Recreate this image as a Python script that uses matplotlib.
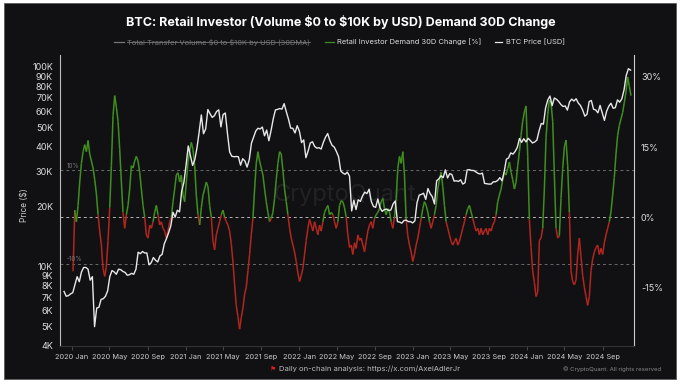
import matplotlib
matplotlib.use("Agg")
import matplotlib.pyplot as plt
import matplotlib.dates as mdates
from matplotlib.collections import LineCollection
from matplotlib.patches import Rectangle
from matplotlib.lines import Line2D
from matplotlib.ticker import FixedLocator, NullLocator
import numpy as np
import pandas as pd

# BTC price, weekly samples starting 2019-12-07 (USD)
price_2019 = [7500, 7100, 7150, 7300]
price_2020 = [7400, 8100, 8900, 8400,
              9400, 9900, 9900, 9700, 8550,
              8900, 5000, 6200, 6250,
              6850, 6900, 7100, 7550,
              8900, 9550, 9400, 9150, 9700,
              9650, 9450, 9350, 9050,
              9100, 9250, 9150, 9700,
              11800, 11600, 11900, 11700, 11700,
              10200, 10450, 11100, 10750,
              10550, 11300, 11500, 13000, 13800,
              14800, 16000, 18700, 17700,
              19150, 18800, 23900, 26400]
price_2021 = [32200, 40200, 36000, 32100, 34300,
              39300, 47200, 57500, 46300,
              48900, 61200, 58300, 55900,
              57000, 59800, 61000, 50100,
              57800, 58800, 46400, 37500, 35700,
              35500, 35600, 35500, 32200,
              34700, 33800, 31500, 34300, 41500,
              44600, 47800, 49300, 48900,
              50000, 45200, 48300, 42700,
              48000, 54900, 60900, 61300, 61900,
              61500, 65500, 59700, 54800,
              49400, 49300, 46700, 50800]
price_2022 = [47700, 41800, 43100, 35100, 37900,
              41600, 42200, 40000, 39200,
              39400, 38800, 41900, 44500,
              46400, 42800, 40500, 39700, 37700,
              35500, 30100, 29400, 29000,
              29700, 28400, 19000, 21500,
              19300, 21600, 21200, 22600, 23600,
              23200, 24400, 21200, 20000,
              19800, 21800, 19700, 18900,
              19300, 19400, 19100, 19200, 20600,
              21300, 16800, 16700, 16500,
              17000, 17100, 16800, 16800, 16550]
price_2023 = [16950, 20900, 22800, 23000,
              23300, 21700, 24600, 23200,
              22400, 20600, 26900, 27500,
              28500, 27900, 30500, 27800, 29200,
              28900, 26800, 26900, 26700,
              27200, 25900, 26300, 30500,
              30600, 30300, 30300, 29800, 29300,
              29100, 29400, 26100, 26000,
              25900, 25900, 26600, 26600, 27000,
              27900, 26900, 29900, 34500,
              35000, 37100, 36600, 37700,
              39500, 43800, 41900, 43700, 42100]
price_2024 = [43900, 42800, 41600, 42100,
              43000, 47800, 52100, 51700,
              62400, 68300, 71500, 64000, 69900,
              68900, 67200, 64900, 63400,
              63800, 60800, 66900, 69000,
              67500, 69300, 66000, 64100, 60900,
              56700, 57900, 67100, 67900,
              61400, 60900, 58900, 64200, 58900,
              54000, 60000, 63600, 65800,
              62100, 62500, 68400, 66600,
              69300, 76700, 90600, 98000, 96400]

# Retail investor demand 30D change (%), samples every ~5.35 days from 2020-01-05
demand = [
    -11.6, 1.5, -1.0, 2.5, 7.5, 11.5, 14.0, 15.5, 14.0, 16.4, 13.5, 12.0, 10.5, 8.0, 5.0, 0.5, -3.0, -6.0, -11.0, -12.7,
    -10.5, -5.0, 2.0, 11.0, 21.7, 26.0, 23.5, 20.5, 14.5, 7.5, 1.0, -2.4, 0.5, 2.5, 6.0, 11.0, 10.5, 12.0, 13.0, 12.0,
    9.6, 6.0, 2.5, 0.0, -3.8, -4.5, -1.7, -2.4, -1.0, 1.0, 2.5, 0.5, -1.7, -1.0, -2.4, -3.0, -4.5, -3.0, -1.0, 0.0,
    3.3, 6.0, 9.0, 9.5, 7.5, 9.0, 4.7, 3.3, 7.5, 11.8, 14.0, 16.0, 14.5, 11.0, 4.7, 0.5, -1.7, 2.0, 4.7, 6.0,
    7.5, 6.5, 2.5, 0.0, -5.2, -7.0, -3.8, -2.4, -1.0, 0.5, 1.5, 0.0, -1.0, -1.7, -3.0, -5.7, -9.6, -14.5, -19.0, -21.3,
    -24.0, -21.5, -19.5, -16.5, -15.0, -11.5, -8.0, -3.8, -0.3, 6.0, 11.5, 14.0, 12.0, 10.5, 9.0, 6.0, 3.3, 1.0, -1.0, -0.3,
    1.0, 4.0, 8.0, 11.5, 14.0, 13.5, 10.0, 6.0, 3.3, 0.5, -2.4, -4.5, -6.0, -7.5, -9.5, -12.0, -13.8, -12.5, -11.0, -8.0,
    -5.0, -2.4, -0.5, -1.7, -3.0, -1.0, -2.4, -3.8, -1.7, -3.0, -1.0, 1.0, 1.8, 2.5, 0.5, 1.0, 0.5, -1.0, -2.4, -1.0,
    2.5, 3.5, 3.3, 2.0, 0.0, -3.8, -6.5, -6.0, -8.0, -5.5, -6.7, -3.8, -5.0, -4.5, -6.0, -7.4, -5.2, -3.0, -1.7, -1.0,
    -2.4, -0.3, 0.5, 1.0, 1.8, 3.3, 4.0, 1.8, 0.5, 1.8, 1.1, -1.0, -2.4, 0.0, 4.0, 10.4, 13.0, 11.5, 14.0, 9.0,
    -0.5, -4.0, -6.0, -7.5, -9.5, -8.0, -6.0, -4.5, -2.4, -0.3, 1.8, 3.3, 2.5, 1.1, -1.0, -2.4, -1.0, 0.5, 2.5, 6.0,
    8.0, 9.6, 6.5, 2.5, -1.0, -2.4, -3.8, -5.2, -6.0, -5.2, -4.5, -6.0, -5.2, -3.8, -2.4, -1.0, 0.5, 1.8, 2.5, 1.1,
    -0.3, -1.7, -3.0, -2.4, -3.8, -2.4, -3.8, -3.0, -2.4, -3.8, -2.4, -3.0, -1.7, -1.0, 0.5, 3.3, 4.7, 6.0, 8.0, 9.6,
    9.0, 10.4, 11.8, 9.6, 8.0, 6.0, 7.5, 11.0, 14.0, 17.5, 20.5, 22.5, 23.8, 13.0, -0.5, -6.5, -11.5, -14.0, -17.0, -16.0,
    -5.0, -4.5, -2.4, 6.0, 17.0, 22.0, 25.0, 24.5, 20.5, 9.0, -2.4, -4.5, -4.0, 4.0, 10.4, 15.0, 16.5, 11.0, 1.0, -11.5,
    -13.8, -14.5, -13.5, -8.0, -4.5, -8.5, -12.5, -15.0, -17.0, -18.9, -17.0, -11.5, -9.0, -7.5, -6.5, -6.0, -8.0, -6.7, -8.0, -5.5,
    -3.8, -2.4, -1.0, 1.1, 4.7, 8.5, 13.5, 17.5, 19.6, 21.0, 22.4, 24.5, 26.8, 30.0, 28.0, 26.0,
]

price_ticks = [4000, 5000, 6000, 7000, 8000, 9000, 10000, 20000, 30000, 40000,
               50000, 60000, 70000, 80000, 90000, 100000]
price_labels = ['4K', '5K', '6K', '7K', '8K', '9K', '10K', '20K', '30K', '40K',
                '50K', '60K', '70K', '80K', '90K', '100K']
pct_ticks = [-15, 0, 15, 30]
pct_labels = ['-15%', '0%', '15%', '30%']

price = np.array(price_2019 + price_2020 + price_2021 + price_2022 + price_2023 + price_2024, dtype=float)
price_dates = pd.date_range('2019-12-07', periods=len(price), freq='7D')
demand = np.array(demand)
demand_dates = pd.Timestamp('2020-01-05') + pd.to_timedelta(np.arange(len(demand)) * 5.35, unit='D')

# style
plt.rcParams['font.family'] = ['Inter', 'DejaVu Sans']
bg = '#111114'
green = '#3f8f1f'
red = '#b3261e'
W, H = 682, 386

fig = plt.figure(figsize=(W / 100, H / 100), dpi=100)
fig.patch.set_facecolor('white')
fig.add_artist(Rectangle((4 / W, 1 - 379 / H), 672 / W, 376 / H, transform=fig.transFigure,
                         facecolor=bg, edgecolor='#5a5a5a', lw=0.6, zorder=-10))

ax = fig.add_axes([60 / W, 1 - 346 / H, 574 / W, 291 / H])
ax2 = ax.twinx()
ax.set_zorder(ax2.get_zorder() + 1)
ax.patch.set_visible(False)
ax2.patch.set_visible(False)

# demand line, green above zero / red below
xd = mdates.date2num(demand_dates)
pts = np.column_stack([xd, demand])
segs = np.stack([pts[:-1], pts[1:]], axis=1)
mid = (demand[:-1] + demand[1:]) / 2
lc = LineCollection(segs, colors=np.where(mid >= 0, green, red), linewidths=1.1)
ax2.add_collection(lc)
ax2.set_ylim(-27.6, 34.7)
for lvl, c in [(10, '#6a6a6a'), (0, '#b5b5b5'), (-10, '#6a6a6a')]:
    ax2.axhline(lvl, color=c, lw=0.7, ls=(0, (3, 3)), zorder=1)
ax2.text(0.012, 10.3, '10%', transform=ax2.get_yaxis_transform(), fontsize=4.5, color='#777', va='bottom')
ax2.text(0.012, -9.7, '-10%', transform=ax2.get_yaxis_transform(), fontsize=4.5, color='#777', va='bottom')
ax2.text(0.497, 0.52, 'CryptoQuant', transform=ax2.transAxes, fontsize=17, color='#222226',
         ha='center', va='center', zorder=0)
ax2.yaxis.set_major_locator(FixedLocator(pct_ticks))
ax2.set_yticklabels(pct_labels)
ax2.tick_params(axis='y', length=0, labelsize=6.5, colors='#dddddd', pad=5)
for s in ax2.spines.values():
    s.set_visible(False)

# BTC price
ax.plot(price_dates, price, color='#e8e8e8', lw=1.0)
ax.set_yscale('log')
ax.set_ylim(4000, 114800)
ax.yaxis.set_major_locator(FixedLocator(price_ticks))
ax.yaxis.set_minor_locator(NullLocator())
ax.set_yticklabels(price_labels)
ax.tick_params(axis='y', length=0, labelsize=6.5, colors='#dddddd', pad=5)
ax.set_xlim(pd.Timestamp('2019-11-24'), pd.Timestamp('2024-12-11'))
ax.xaxis.set_major_locator(mdates.MonthLocator(bymonth=(1, 5, 9)))
ax.xaxis.set_major_formatter(mdates.DateFormatter('%Y %b'))
ax.tick_params(axis='x', length=3, color='#444', labelsize=5.3, labelcolor='#cccccc', pad=3)
ax.spines['top'].set_visible(False)
ax.spines['left'].set_color('#bbbbbb')
ax.spines['right'].set_visible(True)
ax.spines['right'].set_color('#cccccc')
ax.spines['bottom'].set_color('#333333')
for s in ['left', 'right', 'bottom']:
    ax.spines[s].set_linewidth(0.8)

fig.text(25 / W, 1 - 205 / H, 'Price (\\$)', rotation=90, ha='center', va='center', fontsize=6, color='#cccccc')

# title and legend
fig.text(0.5, 1 - 22 / H, 'BTC: Retail Investor (Volume \\$0 to \\$10K by USD) Demand 30D Change',
         ha='center', va='center', fontsize=9, fontweight='bold', color='white')
ly = 1 - 42 / H
items = [(114, 124, 127, 'Total Transfer Volume \\$0 to \\$10K by USD (30DMA)', '#777777', '#777777'),
         (325, 334, 337, 'Retail Investor Demand 30D Change [%]', green, '#dddddd'),
         (495, 502, 506, 'BTC Price [USD]', '#e8e8e8', '#dddddd')]
legend_texts = []
for x0, x1, xt, label, lc_, tc in items:
    fig.add_artist(Line2D([x0 / W, x1 / W], [ly, ly], transform=fig.transFigure, color=lc_, lw=0.9))
    legend_texts.append(fig.text(xt / W, ly, label, ha='left', va='center', fontsize=5.4, color=tc))

# bottom notes
fig.text(273 / W, 1 - 369 / H, '\u2691', ha='center', va='center', fontsize=5, color='#d62020')
fig.text(279 / W, 1 - 369 / H, 'Daily on-chain analysis: https://x.com/AxelAdlerJr',
         ha='left', va='center', fontsize=5.5, color='#bbbbbb')
fig.text(661 / W, 1 - 369 / H, '\u00a9 CryptoQuant. All rights reserved',
         ha='right', va='center', fontsize=4.3, color='#888888')

# strike through the hidden series in the legend
fig.canvas.draw()
bb = legend_texts[0].get_window_extent().transformed(fig.transFigure.inverted())
fig.add_artist(Line2D([bb.x0, bb.x1], [ly, ly], transform=fig.transFigure, color='#777777', lw=0.6))

fig.savefig('out.png', dpi=100, facecolor=fig.get_facecolor())
